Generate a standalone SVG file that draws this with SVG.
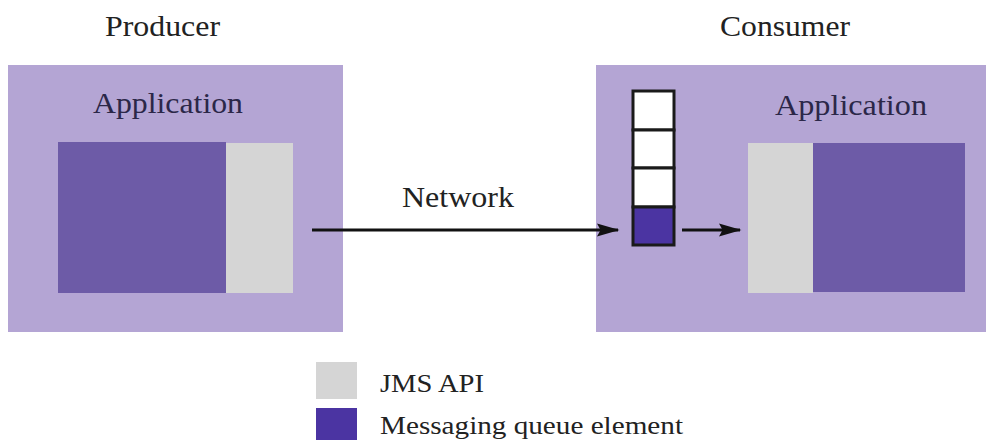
<svg xmlns="http://www.w3.org/2000/svg" width="988" height="440" viewBox="0 0 988 440">
<defs>
<style>
.t{font-family:"Liberation Serif","Times New Roman","DejaVu Serif",serif;fill:#222;font-size:29px}
.app{fill:#2b2748}
.outer{fill:#b4a5d4}
.inner{fill:#6d5ba7}
.api{fill:#d5d5d5}
.qe{fill:#4b34a2}
.cell{fill:#fff;stroke:#1a1a1a;stroke-width:3}
.conn{stroke:#111;stroke-width:3;fill:none}
</style>
<marker id="ah" markerWidth="7.5" markerHeight="4.4" refX="7" refY="2.2" orient="auto" markerUnits="strokeWidth">
<path d="M0,0 L7.5,2.2 L0,4.4 L1.2,2.2 Z" fill="#111"/>
</marker>
</defs>
<rect width="988" height="440" fill="#fff"/>
<g id="producer">
<text class="t" x="105" y="36" textLength="115" lengthAdjust="spacingAndGlyphs">Producer</text>
<rect class="outer" x="8" y="65" width="335" height="267"/>
<text class="t app" x="93" y="113" textLength="150" lengthAdjust="spacingAndGlyphs">Application</text>
<rect class="inner" x="58" y="142" width="168" height="151"/>
<rect class="api" x="226" y="143" width="67" height="150"/>
</g>
<g id="consumer">
<text class="t" x="720" y="36" textLength="130" lengthAdjust="spacingAndGlyphs">Consumer</text>
<rect class="outer" x="596" y="65" width="390" height="267"/>
<text class="t app" x="775" y="115" textLength="152" lengthAdjust="spacingAndGlyphs">Application</text>
<rect class="api" x="748" y="143" width="65" height="150"/>
<rect class="inner" x="813" y="143" width="152" height="149"/>
</g>
<g id="queue">
<rect class="cell" x="633" y="91" width="41" height="39"/>
<rect class="cell" x="633" y="130" width="41" height="38"/>
<rect class="cell" x="633" y="168" width="41" height="39"/>
<rect class="cell" x="633" y="207" width="41" height="38" style="fill:#4b34a2"/>
</g>
<g id="connectors">
<line class="conn" x1="312" y1="230" x2="618" y2="230" marker-end="url(#ah)"/>
<line class="conn" x1="682" y1="230" x2="740" y2="230" marker-end="url(#ah)"/>
<text class="t" x="402" y="207" textLength="112" lengthAdjust="spacingAndGlyphs">Network</text>
</g>
<g id="legend">
<rect class="api" x="316" y="362" width="41" height="37"/>
<rect class="qe" x="316" y="408" width="41" height="32"/>
<text class="t" x="380" y="392" style="font-size:25px" textLength="104" lengthAdjust="spacingAndGlyphs">JMS API</text>
<text class="t" x="380" y="434" style="font-size:25px" textLength="303" lengthAdjust="spacingAndGlyphs">Messaging queue element</text>
</g>
</svg>
